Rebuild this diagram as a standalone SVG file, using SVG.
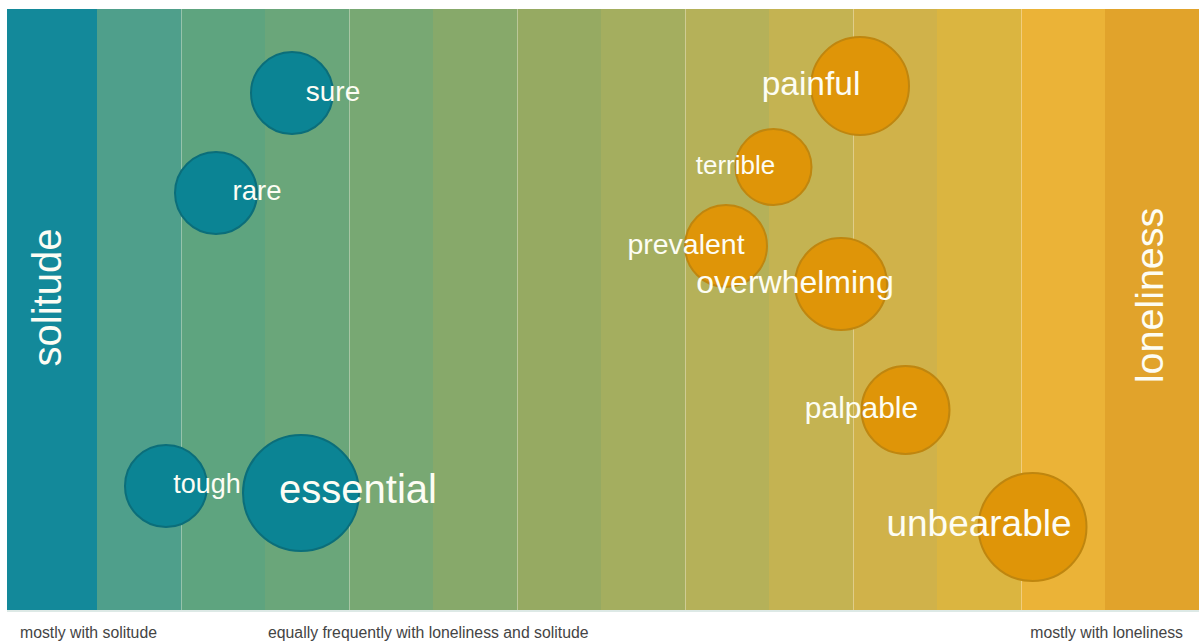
<svg xmlns="http://www.w3.org/2000/svg" width="1199" height="642" viewBox="0 0 1199 642">
<style>
.lbl{font-family:"Liberation Sans",Arial,sans-serif;fill:#fdfdf4;text-anchor:middle}
.axis{font-family:"Liberation Sans",Arial,sans-serif;fill:#444;font-size:15.8px}
.teal{fill:#0b8494;stroke:#0b6e7a;stroke-width:2}
.orng{fill:#df9508;stroke:#bf860f;stroke-width:2}
.sep{stroke:#ffffff;stroke-opacity:0.35;stroke-width:1}
</style>
<rect width="1199" height="642" fill="#ffffff"/>
<g id="bands">
<rect x="7" y="9" width="90" height="601" fill="#13899a"/>
<rect x="97" y="9" width="84" height="601" fill="#4f9f8b"/>
<rect x="181" y="9" width="84" height="601" fill="#5ea47f"/>
<rect x="265" y="9" width="84" height="601" fill="#6aa67a"/>
<rect x="349" y="9" width="84" height="601" fill="#78a873"/>
<rect x="433" y="9" width="84" height="601" fill="#87a96a"/>
<rect x="517" y="9" width="84" height="601" fill="#96aa62"/>
<rect x="601" y="9" width="84" height="601" fill="#a4ae5f"/>
<rect x="685" y="9" width="84" height="601" fill="#b5b159"/>
<rect x="769" y="9" width="84" height="601" fill="#c4b352"/>
<rect x="853" y="9" width="84" height="601" fill="#d0b24a"/>
<rect x="937" y="9" width="84" height="601" fill="#dbb540"/>
<rect x="1021" y="9" width="84" height="601" fill="#ebb337"/>
<rect x="1105" y="9" width="94" height="601" fill="#e1a32b"/>
<line class="sep" x1="181.5" y1="9" x2="181.5" y2="610"/>
<line class="sep" x1="349.5" y1="9" x2="349.5" y2="610"/>
<line class="sep" x1="517.5" y1="9" x2="517.5" y2="610"/>
<line class="sep" x1="685.5" y1="9" x2="685.5" y2="610"/>
<line class="sep" x1="853.5" y1="9" x2="853.5" y2="610"/>
<line class="sep" x1="1021.5" y1="9" x2="1021.5" y2="610"/>
<rect x="7" y="610" width="1192" height="2" fill="#dde9e6"/>
</g>
<g id="end-labels">
<text class="lbl" font-size="40" transform="translate(61,297.5) rotate(-90)">solitude</text>
<text class="lbl" font-size="39.5" transform="translate(1163,295.5) rotate(-90)">loneliness</text>
</g>
<g id="connectors"></g>
<g id="node-sure"><circle class="teal" cx="292" cy="93" r="41"/><text class="lbl" x="333" y="101" font-size="28">sure</text></g>
<g id="node-rare"><circle class="teal" cx="216" cy="193" r="41"/><text class="lbl" x="257" y="200" font-size="27.5">rare</text></g>
<g id="node-tough"><circle class="teal" cx="166" cy="486" r="41"/><text class="lbl" x="207" y="493" font-size="27">tough</text></g>
<g id="node-essential"><circle class="teal" cx="301" cy="493" r="58"/><text class="lbl" x="358" y="503" font-size="40">essential</text></g>
<g id="node-painful"><circle class="orng" cx="860" cy="86" r="49"/><text class="lbl" x="811" y="95" font-size="33.5">painful</text></g>
<g id="node-terrible"><circle class="orng" cx="773.5" cy="167" r="38"/><text class="lbl" x="735.5" y="173.5" font-size="26">terrible</text></g>
<g id="node-prevalent"><circle class="orng" cx="726" cy="246" r="41"/><text class="lbl" x="686" y="254" font-size="28.5">prevalent</text></g>
<g id="node-overwhelming"><circle class="orng" cx="841" cy="284" r="46"/><text class="lbl" x="795" y="292.5" font-size="32">overwhelming</text></g>
<g id="node-palpable"><circle class="orng" cx="905.5" cy="410" r="44"/><text class="lbl" x="861.5" y="418" font-size="30">palpable</text></g>
<g id="node-unbearable"><circle class="orng" cx="1032.5" cy="527" r="54"/><text class="lbl" x="979" y="536" font-size="37">unbearable</text></g>
<g id="axis-labels">
<text class="axis" x="20" y="638">mostly with solitude</text>
<text class="axis" x="268" y="638">equally frequently with loneliness and solitude</text>
<text class="axis" x="1183" y="638" text-anchor="end">mostly with loneliness</text>
</g>
</svg>
